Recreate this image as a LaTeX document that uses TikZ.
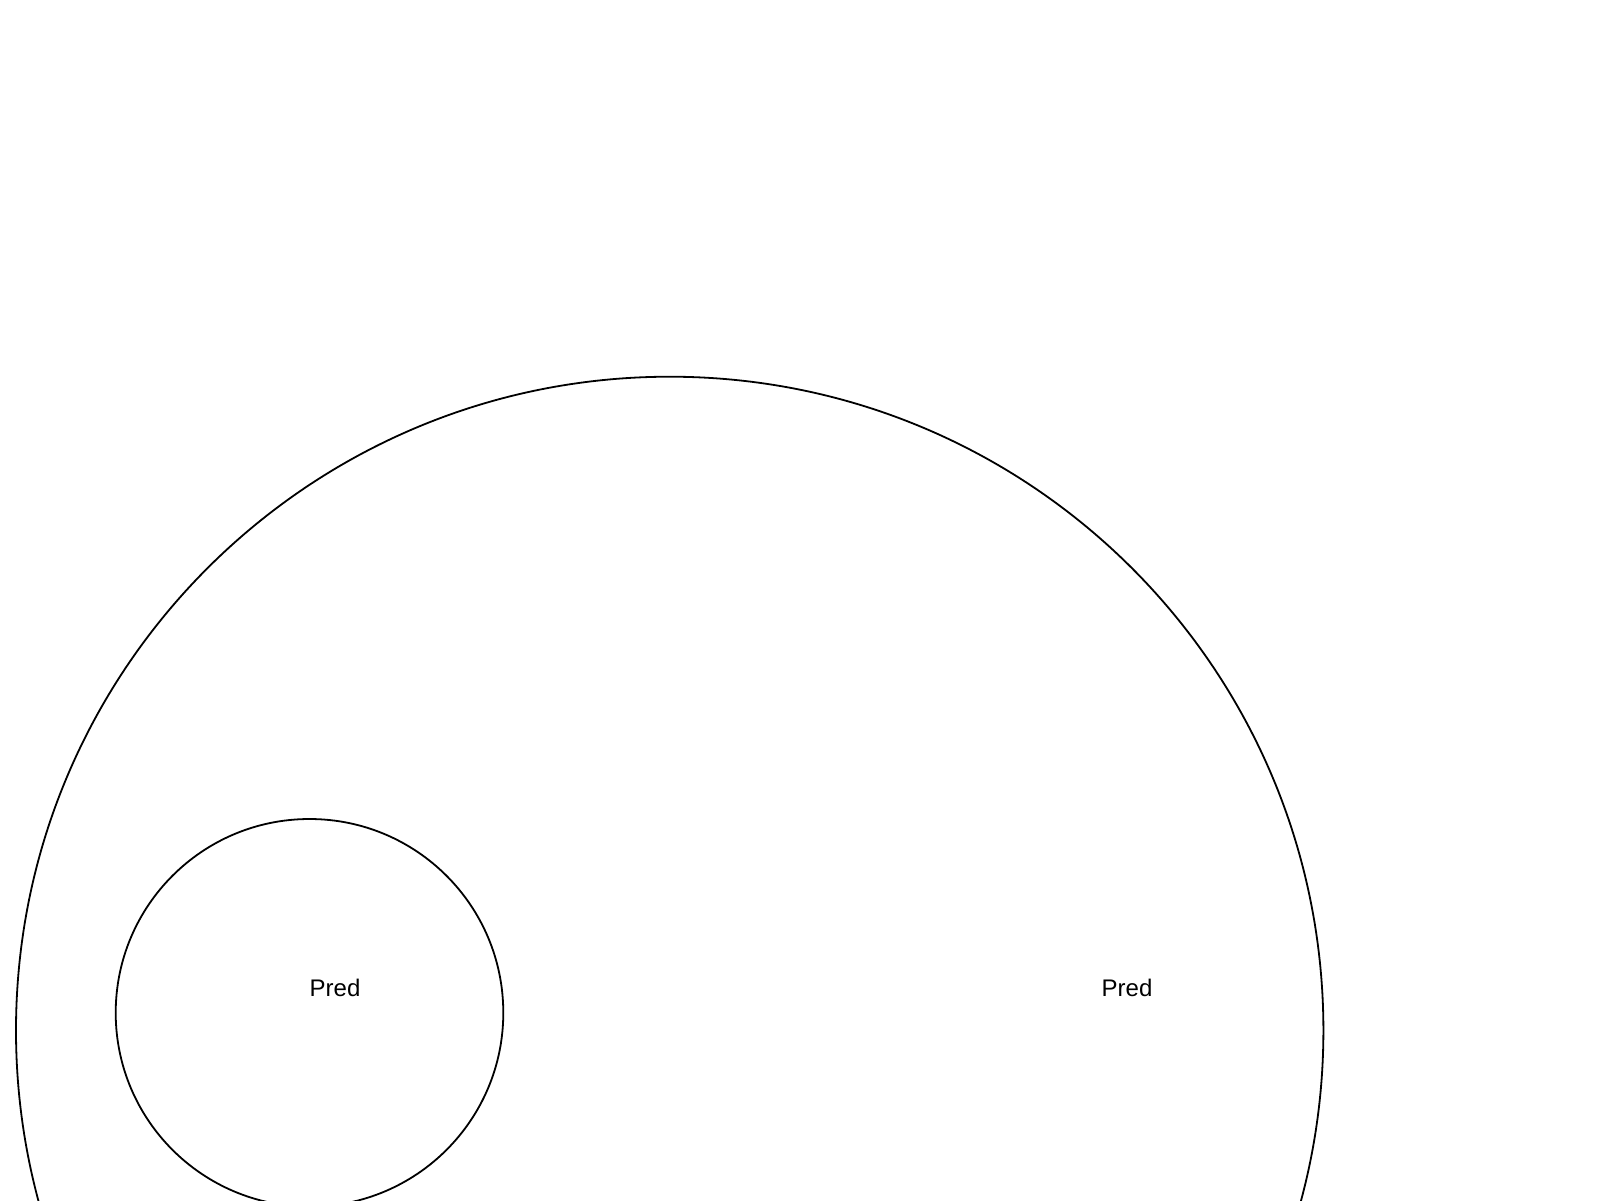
\documentclass[tikz,border=0pt]{standalone}
\usepackage{fontspec}
\setmainfont{Liberation Sans}
\begin{document}
\begin{tikzpicture}[x=1pt,y=-1pt,
  ring/.style={draw=black,line width=1.8pt,circle,inner sep=0pt},
  lbl/.style={font=\fontsize{24}{28}\selectfont,inner sep=0pt,anchor=center}]
\useasboundingbox (0,0) rectangle (1600,1200);
\clip (0,0) rectangle (1600,1200);
\node[ring,minimum size=1307.4pt] (outer) at (669.7,1030.4) {};
\node[ring,minimum size=387.6pt] (inner) at (309.5,1012.8) {};
\node[lbl] (p1) at (335,988) {Pred};
\node[lbl] (p2) at (1127,988) {Pred};
\end{tikzpicture}
\end{document}
